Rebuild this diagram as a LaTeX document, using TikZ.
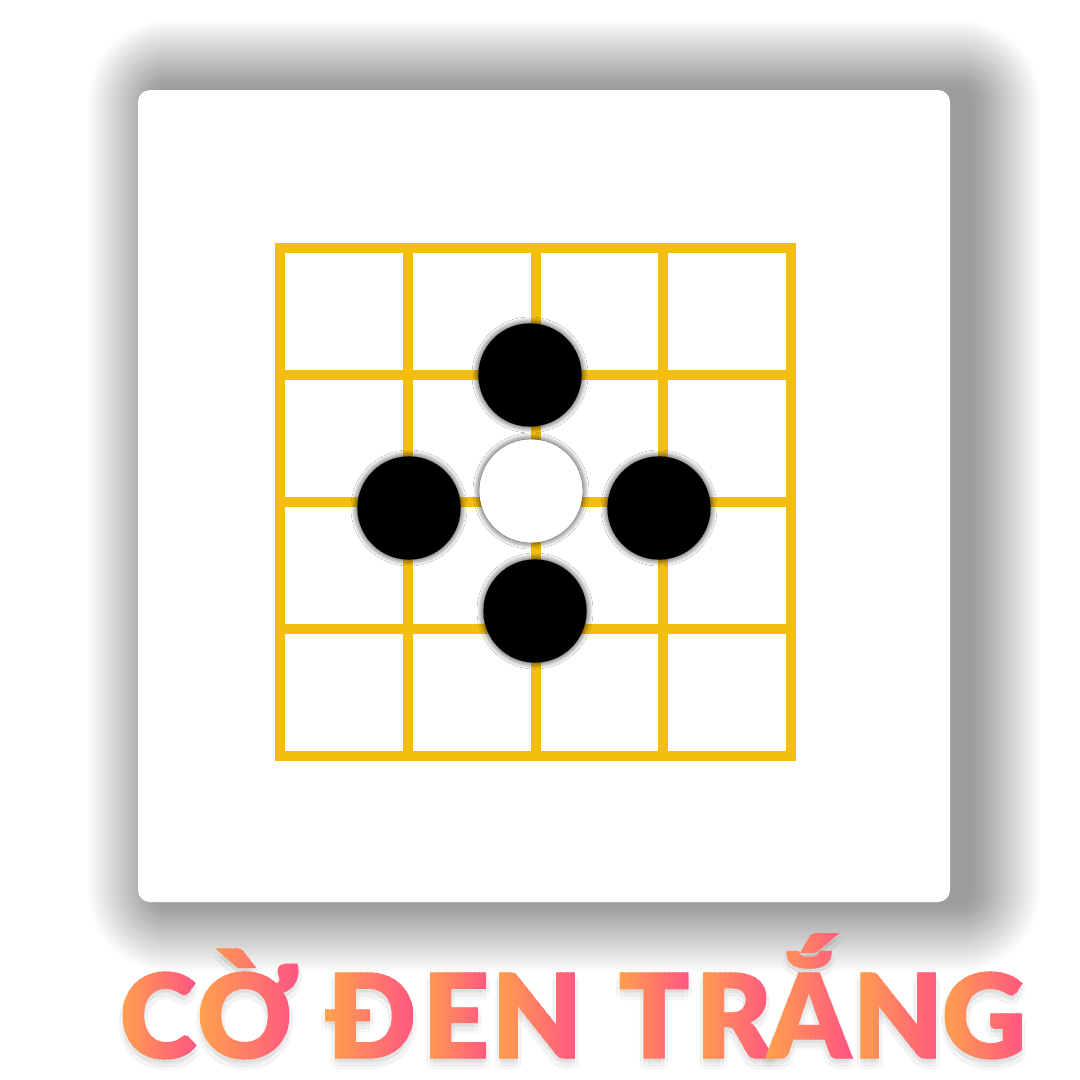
\documentclass[tikz,border=0pt]{standalone}
\usepackage{fontspec}
\usetikzlibrary{shadows.blur,calc}
\newfontfamily\titlefont{Lato Black}[FakeBold=1.1]
\newcommand{\titlesize}{\fontsize{83}{83}\selectfont}

\definecolor{gridyellow}{RGB}{244,190,12}
\definecolor{warmorange}{RGB}{255,170,70}
\definecolor{hotpink}{RGB}{255,72,140}

\tikzset{
  board/.style={fill=white, rounded corners=0.3cm},
  boardshadow/.style={fill=black, opacity=0.013},
  gridline/.style={draw=gridyellow, line width=0.25cm},
  stone/.style={circle, inner sep=0pt, minimum size=2.58cm,
    blur shadow={shadow xshift=0pt, shadow yshift=0pt, shadow scale=1.0,
      shadow blur radius=0.16cm, shadow blur steps=16, shadow opacity=85}},
  blackstone/.style={stone, fill=black},
  whitestone/.style={stone, fill=white},
  letter/.style={inner sep=0pt, font=\titlefont\titlesize},
  letterbox/.style={letter, inner sep=8pt},
  lettershadow/.style={letter, text=black, opacity=0.018},
}

\begin{document}
\begin{tikzpicture}[x=0.025cm, y=-0.025cm]
    \useasboundingbox (0,0) rectangle (1080,1080);
    \fill[white] (0,0) rectangle (1080,1080);

    % board with a soft shadow, built from stacked faint layers
    \foreach \i in {1,...,35} {
        \pgfmathsetmacro{\rc}{0.3+0.05*\i}
        \path[boardshadow, rounded corners=\rc cm]
            (158-2*\i,90-2*\i) rectangle (970+2*\i,902+2*\i);
    }
    \path[board] (138,90) rectangle (950,902);

    % 4x4 grid
    \foreach \i in {1,2,3} {
        \draw[gridline] (280+127.75*\i,248) -- (280+127.75*\i,756);
        \draw[gridline] (280,248+127*\i) -- (791,248+127*\i);
    }
    \draw[gridline] (280,248) rectangle (791,756);

    % stones
    \node[blackstone] (top) at (530,375) {};
    \node[whitestone] (centre) at (531,491) {};
    \node[blackstone] (left) at (409,508) {};
    \node[blackstone] (right) at (659,508) {};
    \node[blackstone] (bottom) at (535,611) {};

    % soft shadow under the title
    \foreach \c/\x in {C/158, Ờ/248, Đ/371, E/456, N/537,
                       T/654, R/734, Ắ/809, N/898, G/984} {
        \foreach \dx/\dy in {0/5, 4/8, -4/8, 0/11, 3/3, -3/3} {
            \node[lettershadow, anchor=base] at (\x+\dx,1058+\dy) {\c};
        }
    }

    % title, each letter shaded orange -> pink in thin strips
    \foreach \c/\x [count=\n] in {C/158, Ờ/248, Đ/371, E/456, N/537,
                                  T/654, R/734, Ắ/809, N/898, G/984} {
        \node[letterbox, anchor=base] (t\n) at (\x,1058) {\phantom{\c}};
        \foreach \k in {0,...,19} {
            \pgfmathtruncatemacro{\mix}{100-5*\k}
            \pgfmathsetmacro{\lo}{\k/20}
            \pgfmathsetmacro{\hi}{(\k+1.4)/20}
            \begin{scope}
                \clip ($(t\n.south west)!\lo!(t\n.south east)$)
                    rectangle ($(t\n.north west)!\hi!(t\n.north east)$);
                \node[letter, anchor=base, text=warmorange!\mix!hotpink] at (\x,1058) {\c};
            \end{scope}
        }
    }
\end{tikzpicture}
\end{document}
